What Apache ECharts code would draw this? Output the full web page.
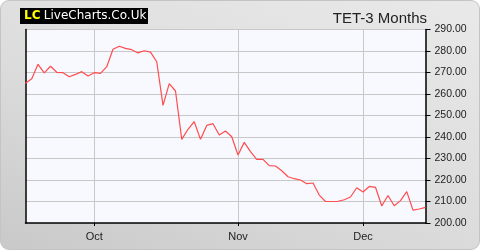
<!DOCTYPE html>
<html>
<head>
<meta charset="utf-8">
<script src="https://cdn.jsdelivr.net/npm/echarts@6/dist/echarts.min.js"></script>
<style>
  html, body { margin: 0; padding: 0; background: #fff; }
  #card {
    width: 480px; height: 250px; box-sizing: border-box;
    border-radius: 9px; border: 1px solid #c4c4c4;
    background: linear-gradient(20deg, #c9c9c9 0%, #dcdcdc 45%, #e9e9e9 100%);
  }
  #chart { width: 478px; height: 248px; }
</style>
</head>
<body>
<div id="card"><div id="chart"></div></div>
<script>
  // trading days shown on the axis (label drawn at first day of each month)
  var dates = [
    '14 Sep', '17 Sep', '18 Sep', '19 Sep', '20 Sep', '21 Sep', '24 Sep', '25 Sep', '26 Sep', '27 Sep', '28 Sep',
    '01 Oct', '02 Oct', '03 Oct', '04 Oct', '05 Oct', '08 Oct', '09 Oct', '10 Oct', '11 Oct', '12 Oct', '15 Oct',
    '16 Oct', '17 Oct', '18 Oct', '19 Oct', '22 Oct', '23 Oct', '24 Oct', '25 Oct', '26 Oct', '29 Oct', '30 Oct', '31 Oct',
    '01 Nov', '02 Nov', '05 Nov', '06 Nov', '07 Nov', '08 Nov', '09 Nov', '12 Nov', '13 Nov', '14 Nov', '15 Nov',
    '16 Nov', '19 Nov', '20 Nov', '21 Nov', '26 Nov', '27 Nov', '28 Nov', '29 Nov', '30 Nov',
    '03 Dec', '04 Dec', '05 Dec', '06 Dec', '07 Dec', '10 Dec', '11 Dec', '12 Dec', '13 Dec', '14 Dec', '17 Dec'
  ];
  // TET close price
  var prices = [
    265.0, 267.1, 273.8, 269.8, 272.9, 270.1, 269.9, 268.0, 269.1, 270.4, 268.4,
    269.9, 269.6, 272.7, 280.8, 282.2, 281.2, 280.6, 279.1, 280.1, 279.5, 275.0,
    254.7, 264.8, 261.4, 238.9, 243.6, 247.1, 238.9, 245.4, 246.2, 240.9, 242.8, 240.1,
    231.6, 237.5, 233.2, 229.6, 229.6, 226.7, 226.5, 224.3, 221.5, 220.6, 220.0,
    218.3, 218.6, 213.0, 210.0, 210.0, 210.1, 210.8, 212.1, 216.4,
    214.4, 217.0, 216.6, 207.9, 212.8, 208.0, 210.4, 214.6, 206.0, 206.5, 207.3
  ];
  var yTicks = {min: 200, max: 290, step: 10};
  var titleText = 'TET-3 Months';

  function isMonthStart(i) {
    return i > 0 && dates[i].slice(3) !== dates[i - 1].slice(3);
  }

  var myChart = echarts.init(document.getElementById('chart'));
  var option = {
    animation: false,
    textStyle: {fontFamily: 'Liberation Sans, Arial, sans-serif'},
    title: {
      text: titleText,
      right: 47,
      top: 5,
      textStyle: {color: '#222', fontSize: 15, fontWeight: 'normal', fontFamily: 'Liberation Sans'}
    },
    graphic: [
      {type: 'rect', left: 19, top: 7, shape: {width: 128, height: 16}, style: {fill: '#000'}},
      {
        type: 'text', left: 23, top: 9,
        style: {
          text: '{lc|LC} {site|LiveCharts.Co.Uk}',
          rich: {
            lc: {fill: '#ffff00', fontSize: 12, fontWeight: 'bold', fontFamily: 'DejaVu Sans'},
            site: {fill: '#fff', fontSize: 12, fontFamily: 'DejaVu Sans'}
          }
        }
      }
    ],
    grid: {
      left: 24.5, right: 53.5, top: 28.5, bottom: 26,
      show: true, backgroundColor: '#f8f9ff', borderWidth: 0
    },
    xAxis: {
      type: 'category',
      boundaryGap: false,
      data: dates,
      axisLine: {lineStyle: {color: '#000', width: 1.5}},
      axisTick: {length: 3, interval: function (i) { return isMonthStart(i); }, lineStyle: {color: '#000'}},
      axisLabel: {
        interval: function (i) { return isMonthStart(i); },
        formatter: function (v) { return v.slice(3); },
        color: '#222', fontSize: 11, margin: 8
      },
      splitLine: {show: true, interval: function (i) { return isMonthStart(i); }, lineStyle: {color: '#c8c8c8'}}
    },
    yAxis: [
      {
        type: 'value',
        position: 'right',
        min: yTicks.min, max: yTicks.max, interval: yTicks.step,
        axisLine: {show: true, lineStyle: {color: '#000', width: 1.5}},
        axisTick: {show: true, length: 5, lineStyle: {color: '#000'}},
        axisLabel: {
          color: '#222', fontSize: 10.5, margin: 9,
          formatter: function (v) { return v.toFixed(2); }
        },
        splitLine: {lineStyle: {color: '#c8c8c8'}}
      },
      {
        type: 'value',
        position: 'left',
        min: yTicks.min, max: yTicks.max,
        axisLine: {show: true, lineStyle: {color: '#000', width: 1.5}},
        axisTick: {show: false},
        axisLabel: {show: false},
        splitLine: {show: false}
      }
    ],
    series: [
      {
        name: 'TET',
        type: 'line',
        data: prices,
        symbol: 'none',
        lineStyle: {color: '#ff4d4d', width: 1.2}
      }
    ]
  };
  myChart.setOption(option);
</script>
</body>
</html>
